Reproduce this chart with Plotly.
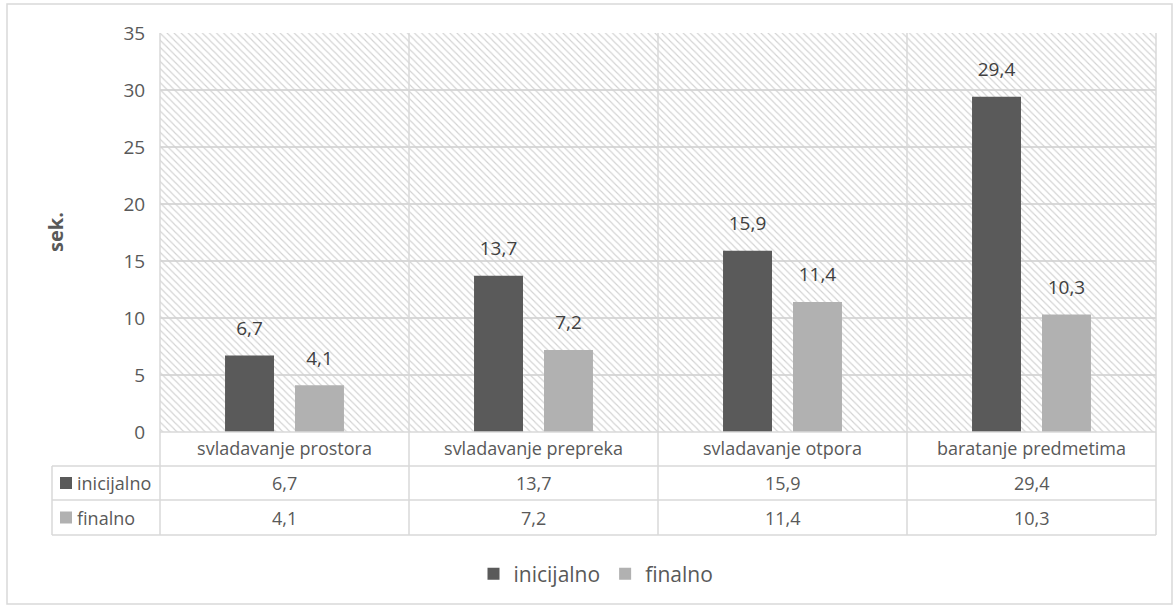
import plotly.graph_objects as go

categories = ["svladavanje prostora", "svladavanje prepreka", "svladavanje otpora", "baratanje predmetima"]
series_names = ["inicijalno", "finalno"]
inicijalno = [6.7, 13.7, 15.9, 29.4]
finalno = [4.1, 7.2, 11.4, 10.3]
y_ticks = [0, 5, 10, 15, 20, 25, 30, 35]
y_title = "sek."

colors = {"inicijalno": "#5a5a5a", "finalno": "#b1b1b1"}
grid = "#d9d9d9"
txt = "#595959"
FONT = "'Open Sans', 'Noto Sans', sans-serif"

W, H = 1175, 607
L, R, T, B = 160, 1156, 33, 432  # plot area in px


def px_x(p):
    return (p - L) / (R - L)


def px_y(p):
    return (B - p) / (B - T)


series = [("inicijalno", inicijalno), ("finalno", finalno)]

fig = go.Figure()

# hatched plot background (base axis, drawn beneath the data bars)
fig.add_trace(go.Bar(
    x=categories, y=[max(y_ticks)] * len(categories), width=[1] * len(categories),
    xaxis="x", yaxis="y",
    marker=dict(color="rgba(0,0,0,0)", line=dict(width=0),
                pattern=dict(shape="\\", fgcolor="#d2d2d2", bgcolor="rgba(0,0,0,0)",
                             size=5, solidity=0.22, fillmode="replace")),
    showlegend=False, hoverinfo="skip",
))

for name, vals in series:
    fig.add_trace(go.Bar(
        x=categories, y=vals, name=name, xaxis="x2", yaxis="y", offsetgroup=name,
        marker=dict(color=colors[name], line=dict(width=0)),
    ))

# value labels above bars (grouped scatter so they sit over their bars)
for name, vals in series:
    fig.add_trace(go.Scatter(
        x=categories, y=vals, xaxis="x2", yaxis="y", offsetgroup=name,
        mode="markers+text", marker=dict(size=24, color="rgba(0,0,0,0)"),
        texttemplate="%{y:.1f}", textposition="top center",
        textfont=dict(size=19, color="#404040", family=FONT),
        cliponaxis=False, showlegend=False, hoverinfo="skip",
    ))

shapes = []
line = dict(color=grid, width=1.5)
ncat = len(categories)
colw = (R - L) / ncat
for i in range(ncat + 1):
    xp = px_x(L + i * colw)
    shapes.append(dict(type="line", xref="paper", yref="paper", x0=xp, x1=xp,
                       y0=1, y1=px_y(535), line=line))
shapes.append(dict(type="line", xref="paper", yref="paper", x0=px_x(52), x1=px_x(52),
                   y0=px_y(466), y1=px_y(535), line=line))
shapes.append(dict(type="line", xref="paper", yref="paper", x0=0, x1=1, y0=0, y1=0, line=line))
for yy in [466, 500, 535]:
    shapes.append(dict(type="line", xref="paper", yref="paper", x0=px_x(52), x1=1,
                       y0=px_y(yy), y1=px_y(yy), line=line))
shapes.append(dict(type="rect", xref="paper", yref="paper", x0=px_x(7), x1=px_x(1172),
                   y0=px_y(4), y1=px_y(604), line=dict(color=grid, width=1.5)))

annotations = []
for r, (name, vals) in enumerate(series):
    yc_px = 483 + r * 34.5
    yc = px_y(yc_px)
    shapes.append(dict(type="rect", xref="paper", yref="paper",
                       x0=px_x(60), x1=px_x(72), y0=px_y(yc_px - 6), y1=px_y(yc_px + 6),
                       fillcolor=colors[name], line=dict(width=0)))
    annotations.append(dict(
        xref="paper", yref="paper", x=px_x(75), y=yc, xanchor="left", yanchor="middle",
        text=name, showarrow=False, font=dict(size=18, color=txt, family=FONT)))
    for i, v in enumerate(vals):
        annotations.append(dict(
            xref="paper", yref="paper", x=px_x(L + (i + 0.5) * colw), y=yc,
            xanchor="center", yanchor="middle", text=f"{v:.1f}".replace(".", ","),
            showarrow=False, font=dict(size=18, color=txt, family=FONT)))
annotations.append(dict(
    xref="paper", yref="paper", x=px_x(55), y=px_y(232), textangle=-90,
    text=f"<b>{y_title}</b>", showarrow=False, xanchor="center", yanchor="middle",
    font=dict(size=20, color=txt, family=FONT)))

fig.update_layout(
    width=W, height=H,
    margin=dict(l=L, r=W - R, t=T, b=H - B, autoexpand=False),
    paper_bgcolor="white", plot_bgcolor="white",
    separators=", ",
    barmode="group", bargap=0.438, bargroupgap=0.3,
    scattermode="group", scattergap=0.438,
    font=dict(family=FONT, color=txt, size=16),
    xaxis=dict(type="category", range=[-0.5, ncat - 0.5], showgrid=False, showline=False,
               ticks="", tickfont=dict(size=18, color=txt), ticklabelstandoff=4,
               fixedrange=True),
    xaxis2=dict(type="category", range=[-0.5, ncat - 0.5], overlaying="x", visible=False,
                fixedrange=True),
    yaxis=dict(range=[0, 35], tickvals=y_ticks, showgrid=True, gridcolor=grid, gridwidth=1.5,
               zeroline=False, showline=False, ticks="outside", ticklen=10,
               tickcolor="rgba(0,0,0,0)", tickfont=dict(size=19, color=txt),
               fixedrange=True),
    legend=dict(orientation="h", x=px_x(596), xanchor="center", y=px_y(574), yanchor="middle",
                font=dict(size=21, color=txt), itemwidth=30, traceorder="normal"),
    shapes=shapes, annotations=annotations,
)

fig.write_html("out.html", config={"displayModeBar": False},
               post_script="document.body.style.margin='0';")
